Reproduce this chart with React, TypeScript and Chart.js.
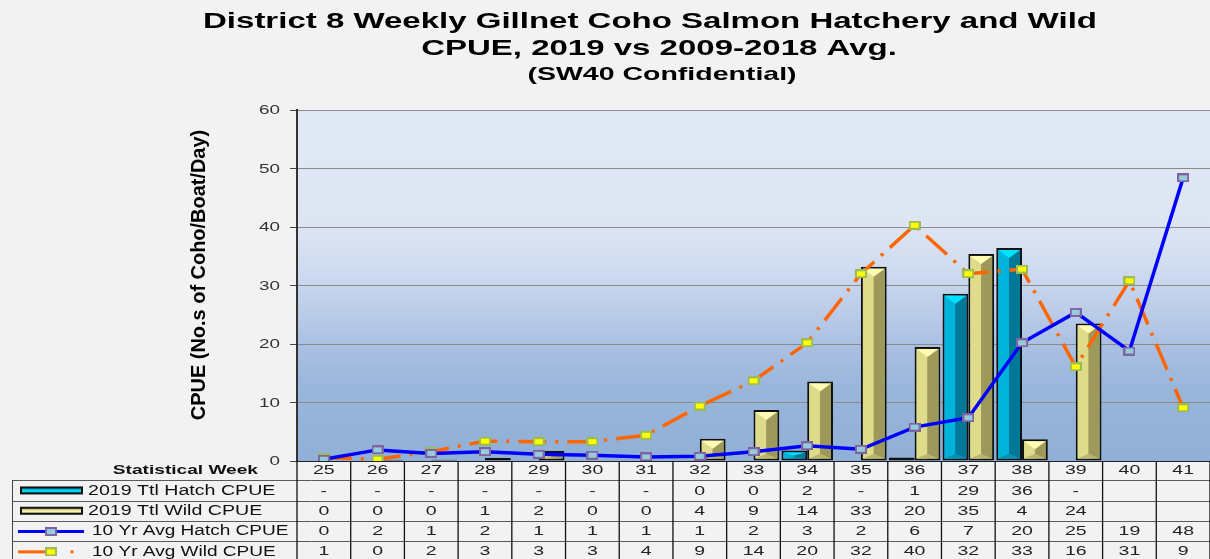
import React, { useEffect, useRef } from "react";
import { Chart, registerables } from "chart.js";

Chart.register(...registerables);

// ---------------- data ----------------
const weeks = ["25", "26", "27", "28", "29", "30", "31", "32", "33", "34", "35", "36", "37", "38", "39", "40", "41"];
const hatch2019: (number | null)[] = [null, null, null, null, null, null, null, 0, 0, 1.8, null, 0.6, 28.6, 36.4, null, null, null];
const wild2019: (number | null)[] = [0, 0.2, 0.2, 0.5, 1.7, 0, 0, 3.8, 8.7, 13.6, 33.2, 19.5, 35.4, 3.7, 23.5, null, null];
const avgHatch: number[] = [0.3, 1.9, 1.3, 1.6, 1.15, 1.0, 0.7, 0.8, 1.6, 2.6, 2.0, 5.8, 7.4, 20.2, 25.4, 18.8, 48.4];
const avgWild: number[] = [0.6, 0.3, 1.6, 3.4, 3.3, 3.3, 4.4, 9.4, 13.7, 20.2, 32.0, 40.3, 32.0, 32.8, 16.1, 30.8, 9.1];
const lastReportedWeek = 39;
const seriesNames = ["2019 Ttl Hatch CPUE", "2019 Ttl Wild CPUE", "10 Yr Avg Hatch CPUE", "10 Yr Avg Wild CPUE"];
const titleLines = ["District 8 Weekly Gillnet Coho Salmon Hatchery and Wild", "CPUE, 2019 vs 2009-2018 Avg.", "(SW40 Confidential)"];
const yTitle = "CPUE (No.s of Coho/Boat/Day)";
const xTitle = "Statistical Week";
const yMin = 0;
const yMax = 60;
const yStep = 10;

// ---------------- styling ----------------
const FONT = "'Liberation Sans', Arial, sans-serif";
const PAGE_BG = "#f2f2f2";
const HATCH_COLORS = { light: "#00b3db", dark: "#007898", top: "#00e2ff", bottom: "#0094b6" };
const WILD_COLORS = { light: "#dedb8b", dark: "#9c995b", top: "#fffbb3", bottom: "#b9b574" };
const BLUE = "#0000ff";
const ORANGE = "#ff6600";
const WILD_DASH = [28, 9, 3, 9];

function makeMarker(fill: string, stroke: string): HTMLCanvasElement {
  const c = document.createElement("canvas");
  c.width = 12;
  c.height = 9;
  const g = c.getContext("2d")!;
  g.fillStyle = stroke;
  g.fillRect(0, 0, 12, 9);
  g.fillStyle = fill;
  g.fillRect(2, 2, 8, 5);
  return c;
}

function sText(
  ctx: CanvasRenderingContext2D,
  text: string,
  x: number,
  y: number,
  font: string,
  align: CanvasTextAlign,
  color: string,
  sx: number,
  baseline: CanvasTextBaseline = "middle"
) {
  ctx.save();
  ctx.font = font;
  ctx.fillStyle = color;
  ctx.textAlign = align;
  ctx.textBaseline = baseline;
  ctx.translate(x, y);
  ctx.scale(sx, 1);
  ctx.fillText(text, 0, 0);
  ctx.restore();
}

function fmt(v: number | null, i: number): string {
  if (v == null) return Number(weeks[i]) <= lastReportedWeek ? "-" : "";
  return String(Math.round(v));
}

export default function App() {
  const ref = useRef<HTMLCanvasElement | null>(null);

  useEffect(() => {
    document.body.style.margin = "0";
    document.body.style.background = PAGE_BG;
    const canvas = ref.current!;
    const hatchMarker = makeMarker("#93cddd", "#8064a2");
    const wildMarker = makeMarker("#ffff00", "#9bbb59");

    const bgPlugin = {
      id: "bg",
      beforeDraw(chart: any) {
        const { ctx, chartArea: ca } = chart;
        ctx.save();
        ctx.fillStyle = PAGE_BG;
        ctx.fillRect(0, 0, chart.width, chart.height);
        const g = ctx.createLinearGradient(0, ca.top, 0, ca.bottom);
        g.addColorStop(0, "#e1e8f5");
        g.addColorStop(0.33, "#dde5f3");
        g.addColorStop(0.45, "#cfdbef");
        g.addColorStop(0.55, "#bfcfea");
        g.addColorStop(0.67, "#aac0e2");
        g.addColorStop(0.8, "#98b5da");
        g.addColorStop(1, "#91b0d7");
        ctx.fillStyle = g;
        ctx.fillRect(ca.left, ca.top, ca.right - ca.left, ca.bottom - ca.top);
        ctx.restore();
      },
    };

    const bevelPlugin = {
      id: "bevel",
      afterDatasetDraw(chart: any, args: any) {
        const meta = args.meta;
        if (meta.type !== "bar") return;
        const col = args.index === 0 ? HATCH_COLORS : WILD_COLORS;
        const ctx = chart.ctx;
        ctx.save();
        meta.data.forEach((el: any, i: number) => {
          const raw = chart.data.datasets[args.index].data[i];
          if (raw == null) return;
          const p = el.getProps(["x", "y", "base", "width"], true);
          const l = p.x - p.width / 2 + 2;
          const r = p.x + p.width / 2 - 2;
          const t = Math.min(p.y, p.base) + 2;
          const b = Math.max(p.y, p.base) - 2;
          const h = b - t;
          if (h <= 0.5) return;
          const cx = (l + r) / 2;
          ctx.fillStyle = col.light;
          ctx.fillRect(l, t, cx - l, h);
          ctx.fillStyle = col.dark;
          ctx.fillRect(cx, t, r - cx, h);
          const th = Math.min(8, h / 2);
          ctx.fillStyle = col.bottom;
          ctx.beginPath();
          ctx.moveTo(l, b);
          ctx.lineTo(r, b);
          ctx.lineTo(cx, b - th * 0.6);
          ctx.closePath();
          ctx.fill();
          ctx.fillStyle = col.top;
          ctx.beginPath();
          ctx.moveTo(l, t);
          ctx.lineTo(r, t);
          ctx.lineTo(cx, t + th);
          ctx.closePath();
          ctx.fill();
        });
        ctx.restore();
      },
    };

    const textPlugin = {
      id: "texts",
      afterDraw(chart: any) {
        const { ctx, chartArea: ca } = chart;
        const xs = chart.scales.x;
        const ys = chart.scales.y;
        // titles
        sText(ctx, titleLines[0], 650, 28, `bold 22px ${FONT}`, "center", "#000", 1.5, "alphabetic");
        sText(ctx, titleLines[1], 659, 55, `bold 22px ${FONT}`, "center", "#000", 1.5, "alphabetic");
        sText(ctx, titleLines[2], 662, 80, `bold 19px ${FONT}`, "center", "#000", 1.5, "alphabetic");
        // y title
        ctx.save();
        ctx.translate(199, 275);
        ctx.rotate(-Math.PI / 2);
        ctx.scale(0.95, 1);
        ctx.font = `bold 21px ${FONT}`;
        ctx.fillStyle = "#000";
        ctx.textAlign = "center";
        ctx.textBaseline = "middle";
        ctx.fillText(yTitle, 0, 0);
        ctx.restore();
        // y tick labels
        ys.ticks.forEach((tk: any) => {
          const py = ys.getPixelForValue(tk.value);
          sText(ctx, String(tk.value), ca.left - 17, py + 0.5, `13px ${FONT}`, "right", "#333", 1.45);
        });

        // data table
        const n = weeks.length;
        const cell = (ca.right - ca.left) / n;
        const top = ca.bottom;
        const headerBottom = top + 19.3;
        const rowH = 20.3;
        const legendLeft = 12;
        ctx.save();
        ctx.strokeStyle = "#222";
        ctx.lineWidth = 1.2;
        ctx.beginPath();
        ctx.moveTo(ca.left, top + 0.5);
        ctx.lineTo(ca.right, top + 0.5);
        ctx.stroke();
        ctx.strokeStyle = "#5a5a5a";
        ctx.lineWidth = 1;
        for (let r = 0; r < 4; r++) {
          const y = Math.round(headerBottom + r * rowH) + 0.5;
          ctx.beginPath();
          ctx.moveTo(legendLeft, y);
          ctx.lineTo(ca.right, y);
          ctx.stroke();
        }
        ctx.strokeStyle = "#111";
        ctx.lineWidth = 1.3;
        for (let i = 0; i <= n; i++) {
          const x = i === 0 ? ca.left : xs.getPixelForValue(i - 1) + cell / 2;
          ctx.beginPath();
          ctx.moveTo(x, top);
          ctx.lineTo(x, chart.height);
          ctx.stroke();
        }
        ctx.strokeStyle = "#444";
        ctx.lineWidth = 1;
        ctx.beginPath();
        ctx.moveTo(legendLeft + 0.5, headerBottom);
        ctx.lineTo(legendLeft + 0.5, chart.height);
        ctx.stroke();
        ctx.restore();

        // header
        sText(ctx, xTitle, 258, top + 9, `bold 13px ${FONT}`, "right", "#111", 1.47);
        weeks.forEach((w, i) => {
          sText(ctx, w, xs.getPixelForValue(i), top + 9.5, `13px ${FONT}`, "center", "#222", 1.5);
        });
        const rows = [hatch2019, wild2019, avgHatch, avgWild];
        rows.forEach((vals, r) => {
          const cy = headerBottom + r * rowH + rowH / 2 + 0.5;
          vals.forEach((v, i) => {
            sText(ctx, fmt(v, i), xs.getPixelForValue(i), cy, `13px ${FONT}`, "center", "#222", 1.5);
          });
          // legend symbols
          ctx.save();
          if (r < 2) {
            const col = r === 0 ? HATCH_COLORS : WILD_COLORS;
            const g = ctx.createLinearGradient(0, cy - 3.5, 0, cy + 3.5);
            g.addColorStop(0, col.dark);
            g.addColorStop(0.5, col.top);
            g.addColorStop(1, col.dark);
            ctx.fillStyle = "#111";
            ctx.fillRect(20, cy - 4.5, 63, 8);
            ctx.fillStyle = g;
            ctx.fillRect(22, cy - 2.5, 59, 4);
          } else if (r === 2) {
            ctx.strokeStyle = BLUE;
            ctx.lineWidth = 3;
            ctx.beginPath();
            ctx.moveTo(18, cy);
            ctx.lineTo(84, cy);
            ctx.stroke();
            ctx.drawImage(hatchMarker, 51 - 6, cy - 4.5);
          } else {
            ctx.strokeStyle = ORANGE;
            ctx.lineWidth = 3;
            ctx.beginPath();
            ctx.moveTo(18, cy);
            ctx.lineTo(46, cy);
            ctx.stroke();
            ctx.drawImage(wildMarker, 51 - 6, cy - 4.5);
            ctx.fillStyle = ORANGE;
            ctx.fillRect(70.5, cy - 1.5, 3, 3);
          }
          ctx.restore();
          sText(ctx, seriesNames[r], r < 2 ? 88 : 92, cy, `14px ${FONT}`, "left", "#111", r < 2 ? 1.4 : 1.36);
        });
      },
    };

    const chart = new Chart(canvas, {
      type: "bar",
      data: {
        labels: weeks,
        datasets: [
          {
            type: "bar",
            label: seriesNames[0],
            data: hatch2019,
            backgroundColor: HATCH_COLORS.dark,
            borderColor: "#111",
            borderWidth: 2,
            borderSkipped: false,
            categoryPercentage: 0.96,
            barPercentage: 1,
            order: 2,
          },
          {
            type: "bar",
            label: seriesNames[1],
            data: wild2019,
            backgroundColor: WILD_COLORS.dark,
            borderColor: "#111",
            borderWidth: 2,
            borderSkipped: false,
            categoryPercentage: 0.96,
            barPercentage: 1,
            order: 2,
          },
          {
            type: "line",
            label: seriesNames[2],
            data: avgHatch,
            borderColor: BLUE,
            borderWidth: 3.5,
            tension: 0,
            pointStyle: hatchMarker,
            pointRadius: 6,
            order: 0,
          },
          {
            type: "line",
            label: seriesNames[3],
            data: avgWild,
            borderColor: ORANGE,
            borderWidth: 3.5,
            borderDash: WILD_DASH,
            borderCapStyle: "butt",
            tension: 0,
            pointStyle: wildMarker,
            pointRadius: 6,
            order: 1,
          },
        ] as any,
      },
      options: {
        responsive: false,
        animation: false,
        devicePixelRatio: 1,
        layout: { autoPadding: false, padding: { left: 290, top: 110, right: 0, bottom: 98 } },
        plugins: {
          legend: { display: false },
          title: { display: false },
          tooltip: { enabled: false },
        },
        scales: {
          x: {
            type: "category",
            offset: true,
            grid: { display: false, drawTicks: false },
            border: { display: false },
            ticks: { display: false },
          },
          y: {
            min: yMin,
            max: yMax,
            ticks: { display: false, stepSize: yStep },
            grid: { color: "#8a8a8a", lineWidth: 1, drawTicks: true, tickLength: 7, tickColor: "#444" },
            border: { display: true, color: "#333", width: 2 },
          },
        },
      },
      plugins: [bgPlugin, bevelPlugin, textPlugin],
    });
    return () => chart.destroy();
  }, []);

  return (
    <div style={{ width: 1210, height: 559, background: PAGE_BG }}>
      <canvas ref={ref} width={1210} height={559} style={{ display: "block" }} />
    </div>
  );
}
